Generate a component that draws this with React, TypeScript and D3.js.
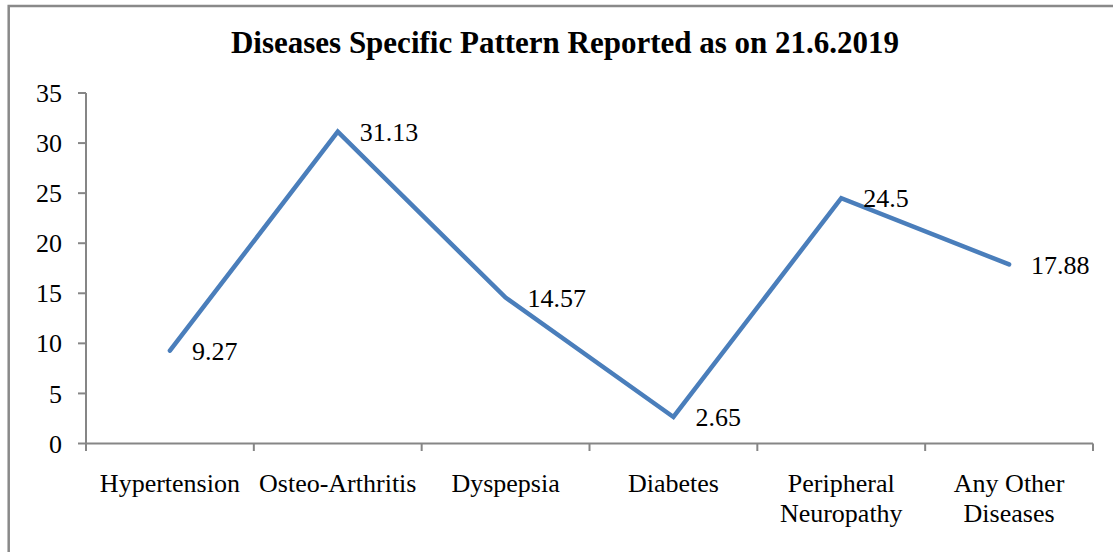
import React from "react";
import * as d3 from "d3";

const categories: string[] = [
  "Hypertension",
  "Osteo-Arthritis",
  "Dyspepsia",
  "Diabetes",
  "Peripheral\nNeuropathy",
  "Any Other\nDiseases",
];
const values: number[] = [9.27, 31.13, 14.57, 2.65, 24.5, 17.88];
const yTicks: number[] = [0, 5, 10, 15, 20, 25, 30, 35];
const title = "Diseases Specific Pattern Reported as on 21.6.2019";

const W = 1113;
const H = 552;
const FONT = "'Liberation Serif', 'Times New Roman', Times, serif";
const AXIS = "#868686";
const LINE = "#4a7ebb";

export default function App() {
  const x = d3.scaleBand<string>().domain(categories).range([86, 1093]).padding(0);
  const y = d3.scaleLinear().domain([0, 35]).range([443.5, 93]);
  const cx = (c: string) => (x(c) as number) + x.bandwidth() / 2;

  const line = d3
    .line<number>()
    .x((_, i) => cx(categories[i]))
    .y((d) => y(d));

  const boundaries = categories.map((c) => x(c) as number).concat([x.range()[1]]);
  const ts = { fontFamily: FONT };

  return (
    <svg
      width={W}
      height={H}
      style={{ position: "absolute", left: 0, top: 0, background: "#fff" }}
    >
      <rect x={8.7} y={6} width={1200} height={700} fill="#fff" stroke="#898989" strokeWidth={2.5} />
      <text x={565} y={53} textAnchor="middle" fontSize={31} fontWeight="bold" fill="#000" style={ts}>
        {title}
      </text>

      {/* Y axis */}
      <line x1={86} x2={86} y1={y(35)} y2={y(0) + 1} stroke={AXIS} strokeWidth={2} />
      {yTicks.map((t) => (
        <g key={t}>
          <line x1={78} x2={86} y1={y(t)} y2={y(t)} stroke={AXIS} strokeWidth={2} />
          <text x={62} y={y(t)} dy="0.35em" textAnchor="end" fontSize={26} fill="#000" style={ts}>
            {String(t)}
          </text>
        </g>
      ))}

      {/* X axis */}
      <line x1={86} x2={1093} y1={y(0)} y2={y(0)} stroke={AXIS} strokeWidth={2} />
      {boundaries.map((b, i) => (
        <line key={i} x1={b} x2={b} y1={y(0)} y2={451} stroke={AXIS} strokeWidth={2} />
      ))}
      {categories.map((c) => (
        <text key={c} x={cx(c)} y={492} textAnchor="middle" fontSize={26} fill="#000" style={ts}>
          {c.split("\n").map((ln, i) => (
            <tspan key={i} x={cx(c)} dy={i === 0 ? 0 : 30}>
              {ln}
            </tspan>
          ))}
        </text>
      ))}

      {/* Line */}
      <path
        d={line(values) || ""}
        fill="none"
        stroke={LINE}
        strokeWidth={4.5}
        strokeLinejoin="miter"
        strokeLinecap="round"
      />

      {/* Data labels */}
      {values.map((v, i) => (
        <text
          key={i}
          x={cx(categories[i]) + 22}
          y={y(v)}
          dy="0.35em"
          fontSize={26}
          fill="#000"
          style={ts}
        >
          {String(v)}
        </text>
      ))}
    </svg>
  );
}
